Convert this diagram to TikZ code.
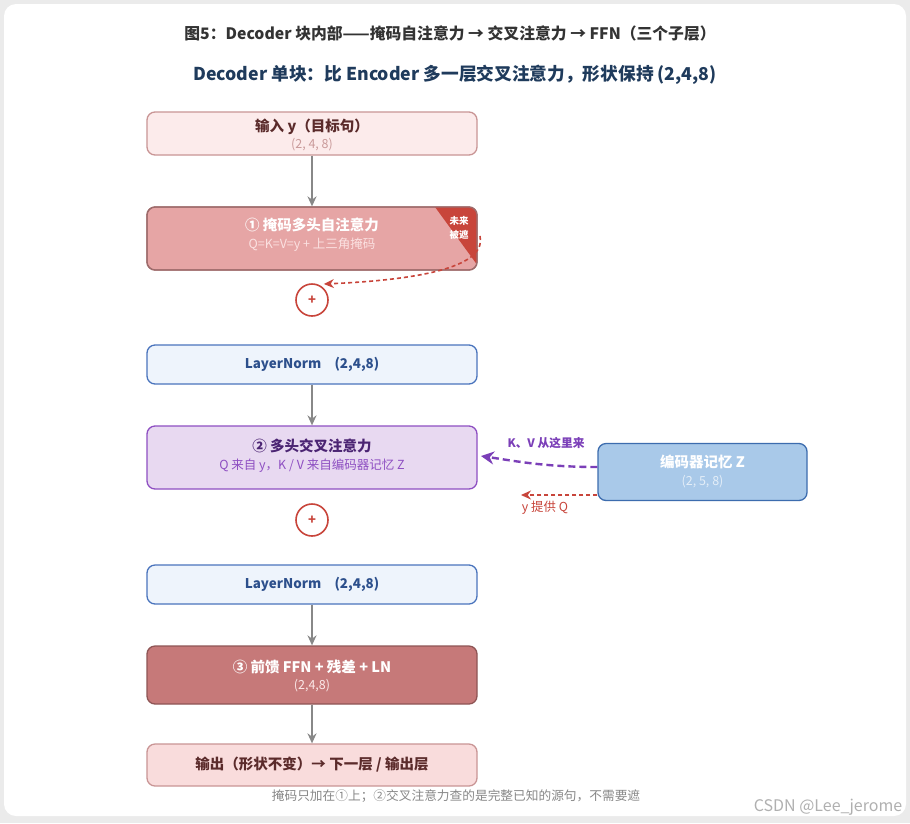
\documentclass[tikz,border=0pt]{standalone}
\usepackage{fontspec}
\setmainfont{Noto Sans CJK SC}
\usetikzlibrary{arrows.meta}
\definecolor{bggray}{HTML}{EBEBEB}
\definecolor{inFill}{HTML}{FCEBEB}
\definecolor{inDraw}{HTML}{C99595}
\definecolor{inText}{HTML}{5B2B2B}
\definecolor{inSub}{HTML}{C99A9A}
\definecolor{maFill}{HTML}{E6A5A5}
\definecolor{maDraw}{HTML}{9E6B6B}
\definecolor{maSub}{HTML}{FBE1E1}
\definecolor{redA}{HTML}{C8453B}
\definecolor{lnFill}{HTML}{EEF4FC}
\definecolor{lnDraw}{HTML}{4A74BD}
\definecolor{lnText}{HTML}{2C4F8C}
\definecolor{crFill}{HTML}{E8D9F1}
\definecolor{crDraw}{HTML}{8E4FC2}
\definecolor{crText}{HTML}{4B2473}
\definecolor{purA}{HTML}{7B3FB8}
\definecolor{meFill}{HTML}{A9C9E9}
\definecolor{meDraw}{HTML}{3C6CAE}
\definecolor{meSub}{HTML}{E4EEF8}
\definecolor{ffFill}{HTML}{C67979}
\definecolor{ffDraw}{HTML}{8E5555}
\definecolor{ffSub}{HTML}{FBE8E8}
\definecolor{ouFill}{HTML}{F9DCDC}
\definecolor{arrGray}{HTML}{888888}
\definecolor{t1col}{HTML}{333333}
\definecolor{t2col}{HTML}{1F3B5C}
\definecolor{noteCol}{HTML}{888888}
\definecolor{wmCol}{HTML}{B0B0B0}
\begin{document}
\begin{tikzpicture}[x=1pt,y=-1pt,
  box/.style={draw, rounded corners=8pt, line width=1.3pt, inner sep=0pt, minimum width=330pt},
  flowarrow/.style={draw=arrGray, line width=1.6pt, -{Stealth[length=10pt,width=9pt]}},
  plusnode/.style={circle, draw=redA, line width=1.6pt, fill=white, minimum size=32pt, inner sep=0pt, text=redA, font=\fontsize{13}{13}\selectfont\bfseries},
  ttl/.style={font=\fontsize{14.5}{16}\selectfont\bfseries, inner sep=0pt},
  sub/.style={font=\fontsize{12.5}{14}\selectfont, inner sep=0pt}
]
\useasboundingbox (0,0) rectangle (910,823);
\fill[bggray] (0,0) rectangle (910,823);
\fill[white, rounded corners=12pt] (4,4) rectangle (906,816);

% titles
\node[inner sep=0pt, text=t1col, font=\fontsize{15.8}{17}\selectfont\bfseries] (title1) at (450,33) {图5：Decoder 块内部——掩码自注意力 → 交叉注意力 → FFN（三个子层）};
\node[inner sep=0pt, text=t2col, font=\fontsize{17.7}{20}\selectfont\bfseries] (title2) at (455,75) {Decoder 单块：比 Encoder 多一层交叉注意力，形状保持 (2,4,8)};

% input
\node[box, fill=inFill, draw=inDraw, minimum height=43pt] (inp) at (312,133.5) {};
\node[ttl, text=inText] (inpT) at (312,126.5) {输入 y（目标句）};
\node[sub, text=inSub] (inpS) at (312,145) {(2, 4, 8)};

% masked attention
\node[box, fill=maFill, draw=maDraw, minimum height=63pt] (mask) at (312,238.5) {};
\begin{scope}
  \clip[rounded corners=8pt] (147,207) rectangle (477,270);
  \fill[redA] (435,207) -- (478,207) -- (478,266) -- cycle;
\end{scope}
\draw[maDraw, line width=1.3pt, rounded corners=8pt] (147,207) rectangle (477,270);
\node[ttl, text=white] (maskT) at (312,225) {① 掩码多头自注意力};
\node[sub, text=maSub] (maskS) at (312,245) {Q=K=V=y + 上三角掩码};
\node[inner sep=0pt, text=white, align=center, font=\fontsize{9.5}{13.5}\selectfont\bfseries] (fut) at (459,228) {未来\\被遮};

\node[plusnode] (plus1) at (312,300) {+};
\coordinate (maskTail) at (480,236);
\draw[redA, line width=1.6pt, dash pattern=on 4pt off 3pt, -{Stealth[length=10pt,width=9pt]}]
  (maskTail) .. controls (486,262) and (440,279) .. (plus1.north east |- 0,284) ;

% LayerNorm 1
\node[box, fill=lnFill, draw=lnDraw, minimum height=39pt, text=lnText, font=\fontsize{13.4}{15}\selectfont\bfseries] (ln1) at (312,364.5) {LayerNorm\quad (2,4,8)};

% cross attention
\node[box, fill=crFill, draw=crDraw, minimum height=63pt] (cross) at (312,457.5) {};
\node[ttl, text=crText] (crossT) at (312,445.5) {② 多头交叉注意力};
\node[sub, text=crDraw] (crossS) at (312,466) {Q 来自 y，K / V 来自编码器记忆 Z};

% encoder memory
\node[draw=meDraw, fill=meFill, rounded corners=8pt, line width=1.3pt, minimum width=209pt, minimum height=57pt, inner sep=0pt] (mem) at (702.5,472) {};
\node[ttl, text=white] (memT) at (702.5,462) {编码器记忆 Z};
\node[sub, text=meSub] (memS) at (702.5,482) {(2, 5, 8)};

\coordinate (kvTip) at (481,456);
\coordinate (qTip) at (521,495);
\draw[purA, line width=2.4pt, dash pattern=on 7pt off 4pt, -{Stealth[length=13pt,width=13pt]}]
  (mem.west |- 0,467) .. controls (545,467) and (515,461) .. (kvTip);
\node[inner sep=0pt, text=purA, font=\fontsize{11.7}{13}\selectfont\bfseries] (kvL) at (546,443) {K、V 从这里来};
\draw[redA, line width=1.6pt, dash pattern=on 4pt off 3pt, -{Stealth[length=10pt,width=9pt]}]
  (mem.west |- 0,495) -- (qTip);
\node[inner sep=0pt, text=redA, font=\fontsize{12.4}{14}\selectfont] (qL) at (545,508) {y 提供 Q};

\node[plusnode] (plus2) at (312,520) {+};

% LayerNorm 2
\node[box, fill=lnFill, draw=lnDraw, minimum height=39pt, text=lnText, font=\fontsize{13.4}{15}\selectfont\bfseries] (ln2) at (312,584.5) {LayerNorm\quad (2,4,8)};

% FFN
\node[box, fill=ffFill, draw=ffDraw, minimum height=58pt] (ffn) at (312,675) {};
\node[ttl, text=white] (ffnT) at (312,666.5) {③ 前馈 FFN + 残差 + LN};
\node[sub, text=ffSub] (ffnS) at (312,686) {(2,4,8)};

% output
\node[box, fill=ouFill, draw=inDraw, minimum height=42pt, text=inText, font=\fontsize{14.5}{16}\selectfont\bfseries] (out) at (312,765) {输出（形状不变）→ 下一层 / 输出层};

% flow arrows
\draw[flowarrow] (inp.south) -- (mask.north);
\draw[flowarrow] (ln1.south) -- (cross.north);
\draw[flowarrow] (ln2.south) -- (ffn.north);
\draw[flowarrow] (ffn.south) -- (out.north);

% notes
\node[inner sep=0pt, text=noteCol, font=\fontsize{12.7}{14}\selectfont] (note) at (456,796) {掩码只加在①上；②交叉注意力查的是完整已知的源句，不需要遮};
\node[inner sep=0pt, text=wmCol, font=\fontsize{16}{18}\selectfont] (wm) at (828,807) {CSDN @Lee\_jerome};
\end{tikzpicture}
\end{document}
